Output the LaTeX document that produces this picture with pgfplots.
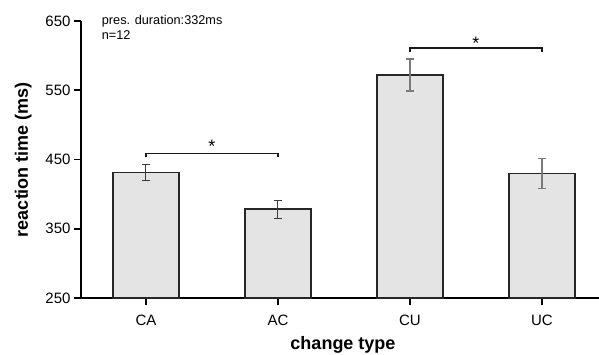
\documentclass[border=0pt]{standalone}
\usepackage{fontspec}
\setmainfont{Liberation Sans}
\usepackage{pgfplots}
\pgfplotsset{compat=1.18}
\definecolor{barfill}{HTML}{E4E4E4}
\definecolor{errA}{HTML}{3A3A3A}
\definecolor{errB}{HTML}{7A7A7A}
\begin{document}
\begin{tikzpicture}[x=1pt,y=1pt]
\begin{axis}[
  scale only axis, width=518pt, height=277pt,
  xmin=-0.492, xmax=3.432, ymin=250, ymax=650,
  axis x line=bottom, axis y line=left,
  axis line style={line width=1.6pt, -},
  ytick={250,350,450,550,650},
  xtick={0,1,2,3}, xticklabels={CA,AC,CU,UC},
  tick align=outside, major tick length=7pt,
  tick style={line width=1.6pt, black},
  /pgf/number format/assume math mode=true,
  ticklabel style={font=\fontsize{15}{17}\selectfont},
  xticklabel shift=6pt,
  xlabel={\textbf{change type}}, ylabel={\textbf{reaction time (ms)}},
  label style={font=\fontsize{18}{20}\selectfont},
  xlabel shift=4pt, ylabel shift=7pt,
  xlabel style={xshift=3pt},
  clip=false,
]
\coordinate (sw) at (rel axis cs:0,0);
\addplot[ybar, bar width=0.5, bar shift=0pt, fill=barfill, draw=black!85, line width=1.2pt,
  error bars/.cd, y dir=both, y explicit,
  error bar style={errA, line width=1pt},
  error mark options={rotate=90, mark size=4pt, errA, line width=1pt}]
  coordinates {
  (0,431.5) +- (0,11.5)
  (1,378.5) +- (0,13)
  };
\addplot[ybar, bar width=0.5, bar shift=0pt, fill=barfill, draw=black!85, line width=1.2pt,
  error bars/.cd, y dir=both, y explicit,
  error bar style={errB, line width=1.2pt},
  error mark options={rotate=90, mark size=4pt, errB, line width=1.2pt}]
  coordinates {
  (2,572) +- (0,23)
  (3,430) +- (0,22)
  };
\draw[line width=1.5pt, black!90] (axis cs:0,453) -- (axis cs:0,459) -- (axis cs:1,459) -- (axis cs:1,453);
\node[anchor=base, inner sep=0pt, font=\fontsize{18}{18}\selectfont] at (axis cs:0.5,459.6) {*};
\draw[line width=1.5pt, black!90] (axis cs:2,605) -- (axis cs:2,611) -- (axis cs:3,611) -- (axis cs:3,605);
\node[anchor=base, inner sep=0pt, font=\fontsize{18}{18}\selectfont] at (axis cs:2.5,609) {*};
\node[anchor=base west, align=left, inner sep=0pt, font=\fontsize{12.7}{15}\selectfont] at (axis cs:-0.335,622.6) {pres. duration:332ms\\n=12};
\end{axis}
\pgfresetboundingbox
\path (sw) ++(-81,-56) rectangle ++(599,354);
\end{tikzpicture}
\end{document}
